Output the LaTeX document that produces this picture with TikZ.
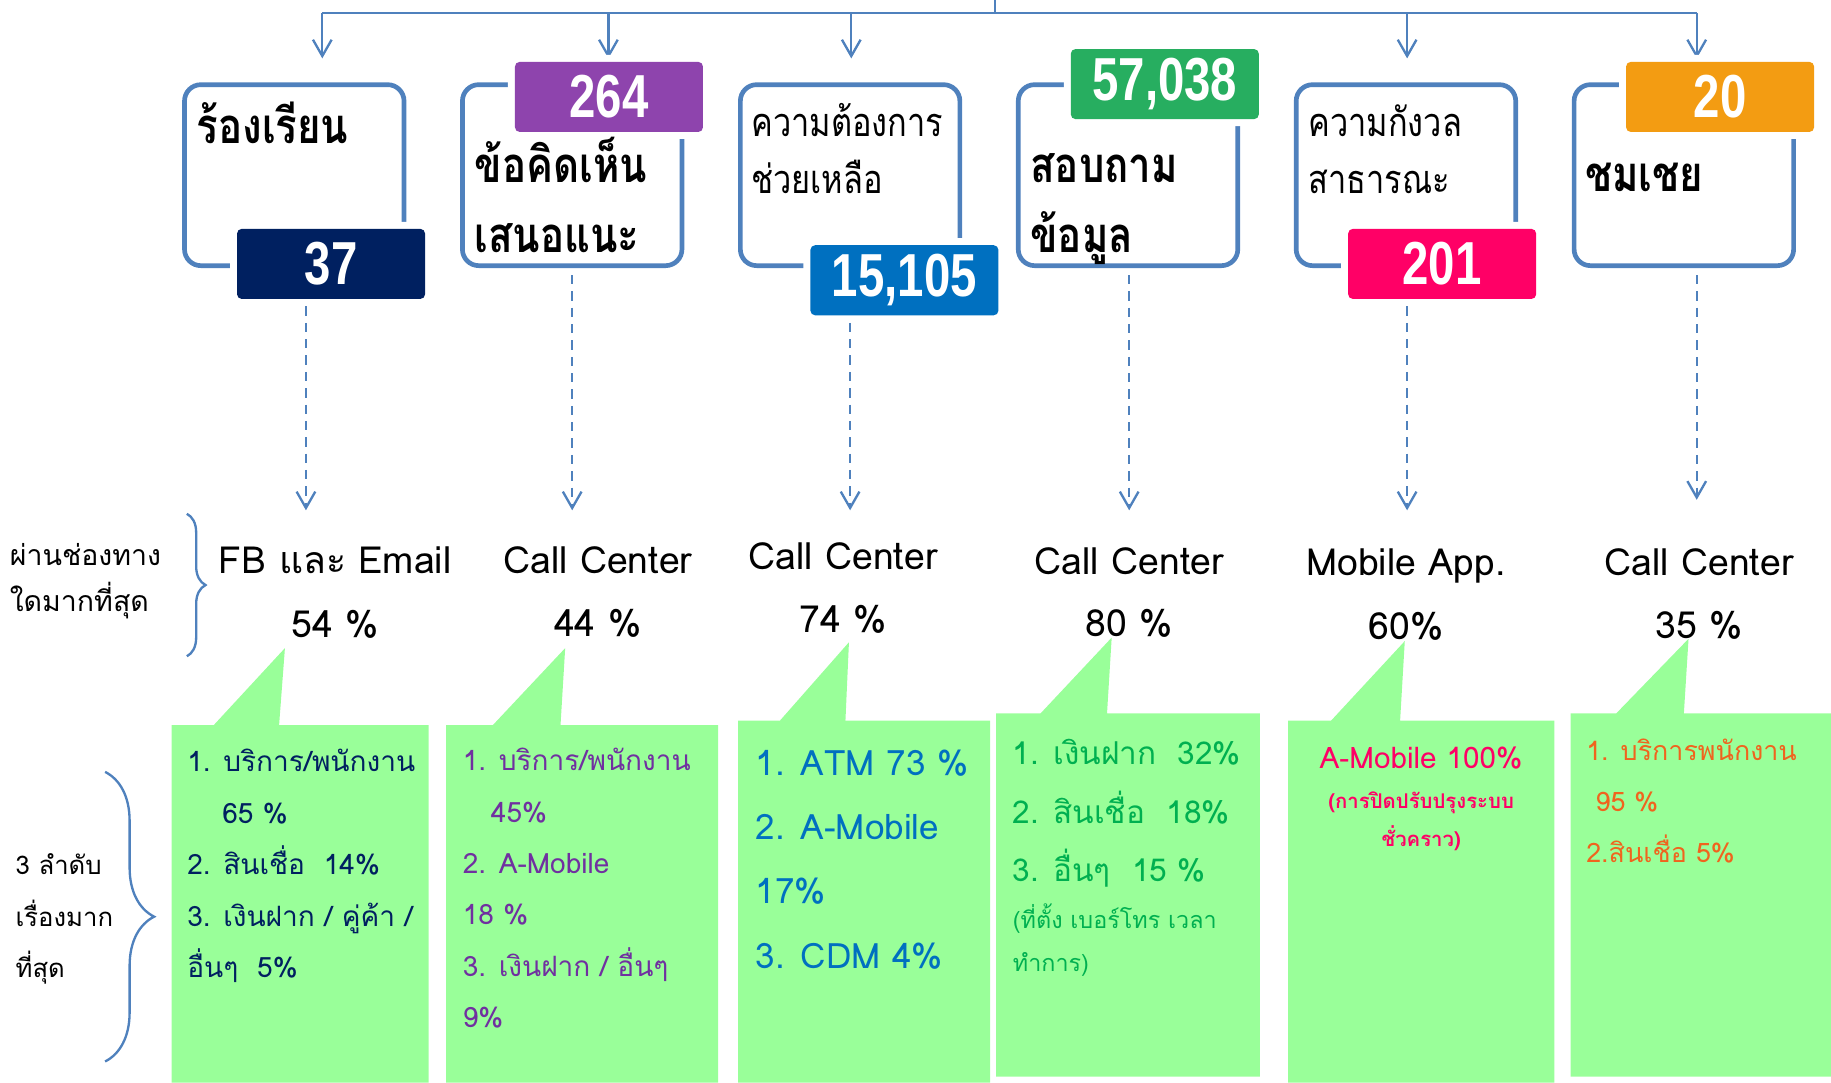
\documentclass[tikz,border=0pt]{standalone}
\usepackage{fontspec}
\usetikzlibrary{arrows.meta,decorations.pathreplacing}
\setmainfont{Loma}[Script=Thai]
\newfontfamily\condfont{Loma}[Script=Thai, FakeStretch=0.82]
\newfontfamily\numfont{Liberation Sans}[FakeStretch=0.78]

\definecolor{linkblue}{RGB}{79,129,189}
\definecolor{notegreen}{RGB}{153,255,153}
\definecolor{cnavy}{RGB}{0,32,96}
\definecolor{cpurple}{RGB}{142,68,173}
\definecolor{cblue}{RGB}{0,112,192}
\definecolor{cgreen}{RGB}{39,174,96}
\definecolor{cpink}{RGB}{255,0,102}
\definecolor{corange}{RGB}{243,156,18}
\definecolor{tpurple}{RGB}{112,48,160}
\definecolor{tgreen}{RGB}{0,176,80}
\definecolor{torange}{RGB}{240,100,30}

\tikzset{
  feed/.style={linkblue, line width=1pt, -{Straight Barb[length=7pt, width=8pt]}},
  dasharrow/.style={feed, dashed, dash pattern=on 4pt off 3pt, shorten <=3pt},
  catbox/.style={draw=linkblue, line width=2pt, rounded corners=7pt, fill=white,
    minimum width=94pt, minimum height=77.5pt},
  badge/.style={fill=#1, preaction={draw=white, line width=6pt}, rounded corners=2pt,
    minimum width=80.5pt, minimum height=30pt, text=white,
    font=\numfont\bfseries\fontsize{26}{26}\selectfont},
  bigtitle/.style={anchor=base west, align=left, inner sep=0pt,
    font=\condfont\bfseries\fontsize{21}{30}\selectfont},
  smalltitle/.style={anchor=base west, align=left, inner sep=0pt,
    font=\condfont\fontsize{17}{24.5}\selectfont},
  chan/.style={anchor=base, inner sep=0pt, font=\fontsize{16}{16}\selectfont},
  note/.style={anchor=base west, align=left, inner sep=0pt,
    font=\fontsize{12}{22}\selectfont},
  brace/.style={linkblue, line width=1pt, decorate}
}

\begin{document}
\begin{tikzpicture}[x=0.5pt, y=-0.5pt]
  \useasboundingbox (0,0) rectangle (1568,927);

  % distribution line at the top
  \coordinate (busL) at (276,11);
  \coordinate (busR) at (1453,11);
  \coordinate (feedin) at (852,0);
  \draw[linkblue, line width=1pt] (busL) -- (busR);
  \draw[linkblue, line width=1pt] (feedin) -- (feedin |- busL);
  \foreach \x in {276,521,729,1205,1453}
    \draw[feed] (\x,11) -- (\x,50);

  % category boxes
  \node[catbox] (bx1) at (252,150) {};
  \node[catbox] (bx2) at (490,150) {};
  \node[catbox] (bx3) at (728,150) {};
  \node[catbox] (bx4) at (966,150) {};
  \node[catbox] (bx5) at (1204,150) {};
  \node[catbox] (bx6) at (1442,150) {};

  % counts
  \node[badge=cnavy]   (n37)   at (283.5,226) {37};
  \node[badge=cpurple] (n264)  at (521.5,83)  {264};
  \node[badge=cblue]   (n15105) at (774.5,240) {15,105};
  \node[badge=cgreen]  (n57038) at (997.5,72)  {57,038};
  \node[badge=cpink]   (n201)  at (1235,226)  {201};
  \node[badge=corange] (n20)   at (1473,83)   {20};

  % box titles (base = last line)
  \node[bigtitle]   (t1) at (168,123)  {ร้องเรียน};
  \node[bigtitle]   (t2) at (406,216)  {ข้อคิดเห็น\\เสนอแนะ};
  \node[smalltitle] (t3) at (643,166)  {ความต้องการ\\ช่วยเหลือ};
  \node[bigtitle]   (t4) at (882,216)  {สอบถาม\\ข้อมูล};
  \node[smalltitle] (t5) at (1120,166) {ความกังวล\\สาธารณะ};
  \node[bigtitle]   (t6) at (1357,164) {ชมเชย};

  % channels
  \node[chan] (c1) at (287,491)  {FB และ Email};
  \node[chan] (c2) at (512,491)  {Call Center};
  \node[chan] (c3) at (722,488)  {Call Center};
  \node[chan] (c4) at (967,492)  {Call Center};
  \node[chan] (c5) at (1204,493) {Mobile App.};
  \node[chan] (c6) at (1455,493) {Call Center};
  \node[chan] (p1) at (287,546)  {54 \%};
  \node[chan] (p2) at (512,545)  {44 \%};
  \node[chan] (p3) at (722,542)  {74 \%};
  \node[chan] (p4) at (967,545)  {80 \%};
  \node[chan] (p5) at (1204,548) {60\%};
  \node[chan] (p6) at (1455,547) {35 \%};

  % dashed links down to the channels
  \coordinate (d1) at (262,437);
  \coordinate (d2) at (490,437);
  \coordinate (d3) at (728,437);
  \coordinate (d4) at (967,437);
  \coordinate (d5) at (1205,437);
  \coordinate (d6) at (1453,428);
  \draw[dasharrow] (n37.south -| d1) -- (d1);
  \draw[dasharrow] (bx2.south -| d2) -- (d2);
  \draw[dasharrow] (n15105.south -| d3) -- (d3);
  \draw[dasharrow] (bx4.south -| d4) -- (d4);
  \draw[dasharrow] (n201.south -| d5) -- (d5);
  \draw[dasharrow] (bx6.south -| d6) -- (d6);

  % row captions
  \node[note, font=\fontsize{12.2}{20}\selectfont] (rowa) at (8,524) {ผ่านช่องทาง\\ใดมากที่สุด};
  \node[note, font=\fontsize{11}{22}\selectfont] (rowb) at (13,837) {3 ลำดับ\\เรื่องมาก\\ที่สุด};
  \draw[brace, decoration={brace, amplitude=8pt}] (160,440) -- (160,562);
  \draw[brace, decoration={brace, amplitude=21pt}] (90,661) -- (90,909);

  % speech notes
  \foreach \l/\r/\t/\b/\pa/\px/\py/\pb in {
      147/367/621/927/183/244/555/239,
      382/615/621/927/422/484/555/480,
      632/848/617/927/668/727/550/724,
      853/1079/611/922/891/952/546/948,
      1103/1331/617/927/1140/1203/549/1199,
      1345/1568/611/922/1384/1446/547/1442}
    \fill[notegreen] (\l,\b) -- (\l,\t) -- (\pa,\t) -- (\px,\py) -- (\pb,\t)
      -- (\r,\t) -- (\r,\b) -- cycle;

  \node[note, text=cnavy] (s1) at (160,837)
    {1. บริการ/พนักงาน\\\hspace*{15pt}65 \%\\2. สินเชื่อ~~14\%\\3. เงินฝาก / คู่ค้า /\\อื่นๆ~~5\%};
  \node[note, text=tpurple] (s2) at (396,880)
    {1. บริการ/พนักงาน\\\hspace*{12pt}45\%\\2. A-Mobile\\18 \%\\3. เงินฝาก / อื่นๆ\\9\%};
  \node[note, text=cblue, font=\fontsize{15}{27.5}\selectfont] (s3) at (647,829)
    {1. ATM 73 \%\\2. A-Mobile\\17\%\\3. CDM 4\%};
  \node[note, text=tgreen, font=\fontsize{13.5}{25}\selectfont] (s4) at (867,755)
    {1. เงินฝาก~~32\%\\2. สินเชื่อ~~18\%\\3. อื่นๆ~~15 \%};
  \node[note, text=tgreen, font=\fontsize{10}{18.5}\selectfont] (s4b) at (867,832)
    {(ที่ตั้ง เบอร์โทร เวลา\\ทำการ)};
  \node[note, anchor=base, text=cpink, font=\fontsize{12.7}{13}\selectfont] (s5) at (1217,658)
    {A-Mobile 100\%};
  \node[note, anchor=base, align=center, text=cpink, font=\bfseries\fontsize{8.7}{16.5}\selectfont] (s5b) at (1217,725)
    {(การปิดปรับปรุงระบบ\\ชั่วคราว)};
  \node[note, text=torange, font=\fontsize{11.5}{22}\selectfont] (s6) at (1358,739)
    {1. บริการพนักงาน\\\hspace*{4pt}95 \%\\2.สินเชื่อ 5\%};
\end{tikzpicture}
\end{document}
